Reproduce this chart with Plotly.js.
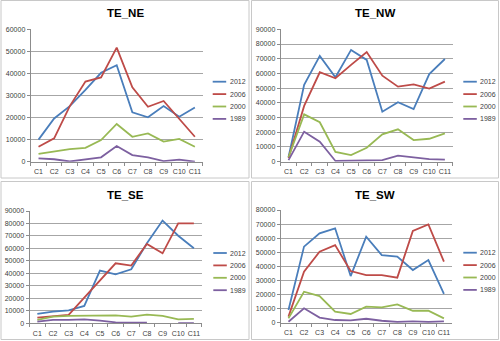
<!DOCTYPE html>
<html>
<head>
<meta charset="utf-8">
<script src="https://cdn.plot.ly/plotly-3.0.1.min.js"></script>
<style>html,body{margin:0;padding:0;background:#fff;}#chart{width:500px;height:341px;}</style>
</head>
<body>
<div id="chart"></div>
<script>
const categories = ['C1','C2','C3','C4','C5','C6','C7','C8','C9','C10','C11'];
const seriesNames = ['2012','2006','2000','1989'];
const seriesColors = ['#4A7EBB','#BE4B48','#98B954','#7D60A0'];
const panelTitles = ['TE_NE','TE_NW','TE_SE','TE_SW'];
const yMax = [60000, 90000, 90000, 80000];

// TE_NE
const ne2012 = [10000,19600,25200,32500,40300,43700,22400,20100,25200,20400,24600];
const ne2006 = [6800,10600,25200,36300,38200,51700,33700,24900,27500,19600,11300];
const ne2000 = [3500,4500,5700,6300,9800,17100,11300,12800,9100,10300,6800];
const ne1989 = [1500,1100,100,1000,2000,7100,3000,2000,300,900,0];
// TE_NW
const nw2012 = [3000,52200,71900,57400,76000,69200,34000,40400,35800,59600,69800];
const nw2006 = [2500,37900,60800,56700,65800,74600,58500,51000,52600,49700,54400];
const nw2000 = [3000,32200,26800,6600,4500,9500,18600,22000,14700,15600,19300];
const nw1989 = [1100,20400,13600,500,700,900,1100,4100,2900,1800,1400];
// TE_SE
const se2012 = [7500,9300,10400,13900,42200,39300,43300,64100,82300,70200,60100];
const se2006 = [4500,5300,6700,20600,34700,48100,46200,63600,56100,80100,80100];
const se2000 = [2700,5300,5900,5900,5900,6400,5300,6900,5900,3200,3500];
const se1989 = [1300,2700,2700,3200,2100,800,500,500,null,200,200];
// TE_SW
const sw2012 = [9000,54000,63400,67000,33100,61100,48000,46900,37400,44500,20400];
const sw2006 = [4300,36200,50400,55100,36700,33800,33800,32000,65100,69800,43300];
const sw2000 = [3100,22000,18900,7800,6200,11400,10900,13000,8500,8500,3100];
const sw1989 = [700,10200,3600,1900,1700,2800,1400,500,900,500,900];

const panelData = [
  [ne2012, ne2006, ne2000, ne1989],
  [nw2012, nw2006, nw2000, nw1989],
  [se2012, se2006, se2000, se1989],
  [sw2012, sw2006, sw2000, sw1989]
];

const W = 500, H = 341;
// plot areas in pixels [x0, x1, yTop, yBottom]
const plotBoxes = [
  [30.7, 202.7, 29.3, 161.7],
  [280.7, 452.7, 29.3, 161.7],
  [29.5, 201.7, 211, 323.3],
  [280.7, 451.7, 210, 322.7]
];
// panel frames [x0, x1, yTop, yBottom]
const frames = [
  [1, 249, 0.5, 178],
  [251.5, 498.5, 0.5, 178],
  [1, 249, 181.5, 339.5],
  [251.5, 498.5, 181.5, 339.5]
];
const titleY = [13, 13, 195, 195];
const legendX = [212.7, 463.3, 213.3, 463.3];
const legendY0 = [81.7, 81.7, 253, 252.7];
const legendStep = 12.4;

const px = x => x / W;
const py = y => 1 - y / H;

const font = "'Liberation Sans', Arial, sans-serif";
const traces = [];
const layout = {
  width: W, height: H,
  margin: {l:0, r:0, t:0, b:0},
  paper_bgcolor: '#ffffff',
  plot_bgcolor: '#ffffff',
  showlegend: false,
  font: {family: font, size: 7, color: '#404040'},
  shapes: [],
  annotations: []
};

for (let p = 0; p < 4; p++) {
  const sfx = p === 0 ? '' : String(p + 1);
  const b = plotBoxes[p];
  layout['xaxis' + sfx] = {
    domain: [px(b[0]), px(b[1])],
    anchor: 'y' + sfx,
    type: 'category',
    range: [-0.5, categories.length - 0.5],
    showgrid: false,
    showline: true, linecolor: '#8c8c8c', linewidth: 1,
    ticks: 'outside', ticklen: 3, tickcolor: '#8c8c8c', tickson: 'boundaries',
    tickangle: 0, ticklabelstandoff: 3,
    tickfont: {family: font, size: 7, color: '#404040'},
    fixedrange: true
  };
  layout['yaxis' + sfx] = {
    domain: [py(b[3]), py(b[2])],
    anchor: 'x' + sfx,
    range: [0, yMax[p]],
    dtick: 10000,
    tickformat: 'd',
    showgrid: true, gridcolor: '#a6a6a6', gridwidth: 1,
    zeroline: false,
    showline: true, linecolor: '#8c8c8c', linewidth: 1,
    ticks: 'outside', ticklen: 3, tickcolor: '#8c8c8c',
    tickfont: {family: font, size: 7, color: '#404040'},
    fixedrange: true
  };
  for (let s = 0; s < seriesNames.length; s++) {
    traces.push({
      type: 'scatter', mode: 'lines',
      x: categories, y: panelData[p][s],
      name: seriesNames[s],
      xaxis: 'x' + sfx, yaxis: 'y' + sfx,
      line: {color: seriesColors[s], width: 1.8},
      connectgaps: false,
      hoverinfo: 'skip'
    });
    // compact legend entries
    const ly = legendY0[p] + s * legendStep;
    layout.shapes.push({
      type: 'line', xref: 'paper', yref: 'paper',
      x0: px(legendX[p]), x1: px(legendX[p] + 13.5),
      y0: py(ly), y1: py(ly),
      line: {color: seriesColors[s], width: 1.8}
    });
    layout.annotations.push({
      xref: 'paper', yref: 'paper',
      x: px(legendX[p] + 15), y: py(ly),
      xanchor: 'left', yanchor: 'middle',
      text: seriesNames[s], showarrow: false,
      font: {family: font, size: 7, color: '#404040'}
    });
  }
  const f = frames[p];
  layout.shapes.push({
    type: 'rect', xref: 'paper', yref: 'paper',
    x0: px(f[0]), x1: px(f[1]), y0: py(f[3]), y1: py(f[2]),
    line: {color: '#c8c8c8', width: 1}, fillcolor: 'rgba(0,0,0,0)', layer: 'below'
  });
  layout.annotations.push({
    xref: 'paper', yref: 'paper',
    x: px((f[0] + f[1]) / 2), y: py(titleY[p]),
    xanchor: 'center', yanchor: 'middle',
    text: '<b>' + panelTitles[p] + '</b>', showarrow: false,
    font: {family: font, size: 11.5, color: '#000000'}
  });
}

Plotly.newPlot('chart', traces, layout, {staticPlot: true, displayModeBar: false});
</script>
</body>
</html>
